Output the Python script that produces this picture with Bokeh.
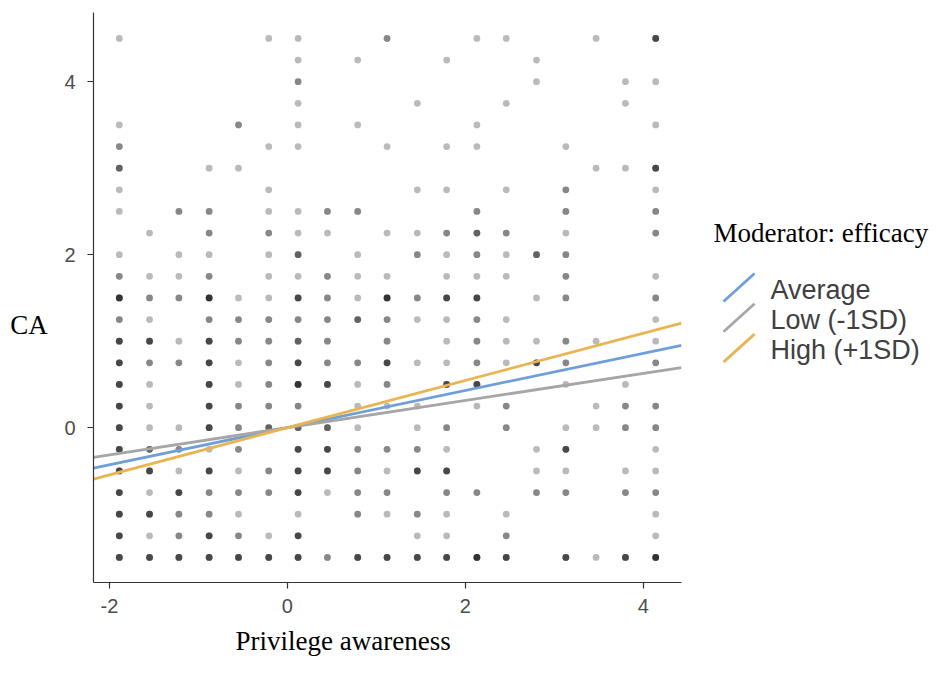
from bokeh.plotting import figure
from bokeh.models import Range1d, FixedTicker, Label, Title
from bokeh.layouts import row
from bokeh.embed import file_html
from bokeh.resources import INLINE

# ---- data ----
x_levels = [-1.89, -1.55, -1.22, -0.88, -0.55, -0.21, 0.12, 0.45, 0.79, 1.12,
            1.46, 1.79, 2.13, 2.46, 2.80, 3.13, 3.47, 3.80, 4.14]
y_levels = [4.5, 4.25, 4.0, 3.75, 3.5, 3.25, 3.0, 2.75, 2.5, 2.25, 2.0, 1.75,
            1.5, 1.25, 1.0, 0.75, 0.5, 0.25, 0.0, -0.25, -0.5, -0.75, -1.0,
            -1.25, -1.5]
# number of overlapping observations at each (x, y) cell, one string per y level
counts_by_row = [
    "1000011002001100104",
    "0000001010010010000",
    "0000002000000010011",
    "0000001000100100010",
    "1000201010001000001",
    "2000011001011001000",
    "3001100000000000114",
    "1000010000110102001",
    "1022011220002002002",
    "0102021101123201002",
    "1011013010212132000",
    "2112011211011102001",
    "5225114215244012002",
    "2102222232112100001",
    "4414223202012112101",
    "4224124224112142002",
    "4104125412044001010",
    "4104222011101200122",
    "4114233310120201122",
    "4321204422210014001",
    "4414124421440011011",
    "4142224122022022022",
    "4422101021210100001",
    "4124214000110200001",
    "4444444244445404145",
]
series_names = ["Average", "Low (-1SD)", "High (+1SD)"]
series_slopes = [0.215, 0.157, 0.273]
series_intercepts = [0.0, 0.0, 0.0]
series_colors = ["#6F9FDA", "#A6A6A6", "#E9B552"]
x_ticks = [-2, 0, 2, 4]
y_ticks = [0, 2, 4]
x_lim = (-2.18, 4.43)
y_lim = (-1.79, 4.80)

# expand cells into individual observations
px, py = [], []
for yv, line in zip(y_levels, counts_by_row):
    for xv, ch in zip(x_levels, line):
        for _ in range(int(ch)):
            px.append(xv)
            py.append(yv)

SANS = "Liberation Sans"
SERIF = "Liberation Serif"
H = 665
TOP = 12
FRAME_H = 570
BOTTOM = H - TOP - FRAME_H


def side_panel(width):
    # panel whose inner frame lines up with the main plot's frame;
    # its data units are page pixels (y downward)
    fig = figure(width=width, height=H, output_backend="svg",
                 toolbar_location=None,
                 x_range=Range1d(0, width),
                 y_range=Range1d(TOP + FRAME_H, TOP),
                 min_border_left=0, min_border_right=0,
                 min_border_top=TOP, min_border_bottom=BOTTOM)
    fig.axis.visible = False
    fig.grid.visible = False
    fig.outline_line_color = None
    fig.background_fill_color = "white"
    fig.border_fill_color = "white"
    return fig


# ---- left strip holding the y title ----
ca = side_panel(60)
ca.add_layout(Label(x=28.5, y=324, text="CA", text_font=SERIF,
                    text_font_size="27px", text_color="black",
                    text_align="center", text_baseline="middle"))

# ---- main plot ----
p = figure(width=635, height=H, output_backend="svg", toolbar_location=None,
           x_range=Range1d(*x_lim), y_range=Range1d(*y_lim),
           min_border_left=33, min_border_right=14, min_border_top=TOP,
           min_border_bottom=BOTTOM)
p.outline_line_color = None
p.grid.visible = False
p.background_fill_color = "white"
p.border_fill_color = "white"

p.scatter(px, py, size=6.8, fill_color="black", fill_alpha=0.27,
          line_color=None)

for name, b, a, c in zip(series_names, series_slopes, series_intercepts, series_colors):
    xs = list(x_lim)
    ys = [a + b * xv for xv in xs]
    p.line(xs, ys, line_color=c, line_width=2.8)

for ax in (p.xaxis[0], p.yaxis[0]):
    ax.axis_line_color = "#333333"
    ax.axis_line_width = 1.2
    ax.major_tick_line_color = "#333333"
    ax.major_tick_line_width = 1.2
    ax.major_tick_out = 6
    ax.major_tick_in = 0
    ax.minor_tick_line_color = None
    ax.major_label_text_font = SANS
    ax.major_label_text_font_size = "20px"
    ax.major_label_text_color = "#4D4D4D"
p.xaxis[0].major_label_standoff = 10
p.yaxis[0].major_label_standoff = 12
p.xaxis[0].ticker = FixedTicker(ticks=x_ticks)
p.yaxis[0].ticker = FixedTicker(ticks=y_ticks)
p.xaxis[0].major_label_overrides = {t: str(t) for t in x_ticks}
p.yaxis[0].major_label_overrides = {t: str(t) for t in y_ticks}

p.add_layout(Title(text="Privilege awareness", align="left", offset=142,
                   text_font=SERIF, text_font_size="27px",
                   text_font_style="normal", text_color="black", standoff=16),
             "below")

# ---- legend panel ----
lg = side_panel(239)
lg.add_layout(Label(x=18, y=232, text="Moderator: efficacy", text_font=SERIF,
                    text_font_size="27px", text_color="black", text_align="left",
                    text_baseline="middle"))
centers = [287 + 30.3 * i for i in range(len(series_names))]
lg.segment(x0=[28] * 3, y0=[c + 14 for c in centers], x1=[59] * 3,
           y1=[c - 14 for c in centers], line_color=series_colors, line_width=2.8)
lg.text(x=[75] * 3, y=[c + 2 for c in centers], text=series_names,
        text_font={"value": SANS}, text_font_size="27px", text_color="#404040",
        text_baseline="middle", text_align="left")

layout = row(ca, p, lg)
open("out.html", "w").write(file_html(layout, INLINE))
